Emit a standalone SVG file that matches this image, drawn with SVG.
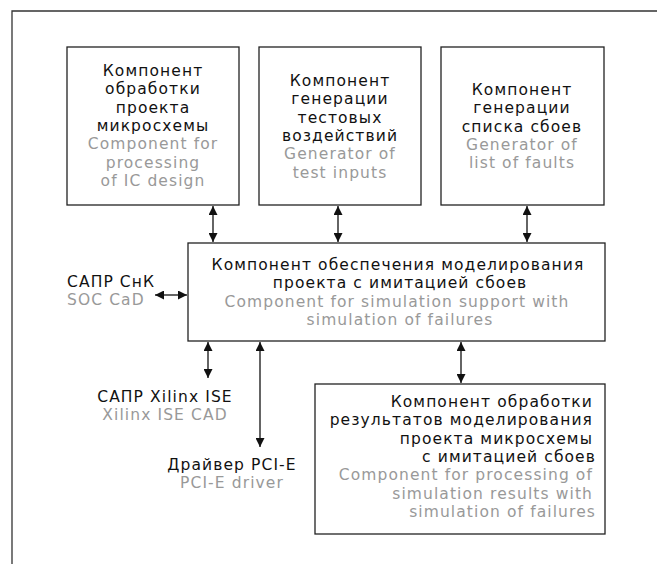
<svg xmlns="http://www.w3.org/2000/svg" width="657" height="564" viewBox="0 0 657 564">
<style>
.box{fill:#fff;stroke:#222;stroke-width:1.3}
.frame{fill:none;stroke:#333;stroke-width:1.3}
text{font-family:"DejaVu Sans","Open Sans",sans-serif;font-size:15.5px;letter-spacing:1.1px}
.k{fill:#111}
.g{fill:#999}
.c{text-anchor:middle}
.r{text-anchor:end}
.ln{stroke:#111;stroke-width:1.3;fill:none;marker-start:url(#ah);marker-end:url(#ah)}
</style>
<defs>
<marker id="ah" viewBox="0 0 10 10" refX="10" refY="5" markerWidth="9" markerHeight="9" markerUnits="userSpaceOnUse" orient="auto-start-reverse">
<path d="M0,0 L10,5 L0,10 z" fill="#111"/>
</marker>
</defs>
<rect width="657" height="564" fill="#fff"/>
<path class="frame" d="M12,564 V11 H657"/>
<g id="n1">
<rect class="box" x="67" y="47" width="172" height="158"/>
<text class="c k" x="153" y="76">Компонент</text>
<text class="c k" x="153" y="94.3">обработки</text>
<text class="c k" x="153" y="112.6">проекта</text>
<text class="c k" x="153" y="130.9">микросхемы</text>
<text class="c g" x="153" y="149.2">Component for</text>
<text class="c g" x="153" y="167.5">processing</text>
<text class="c g" x="153" y="185.8">of IC design</text>
</g>
<g id="n2">
<rect class="box" x="259" y="47" width="162" height="158"/>
<text class="c k" x="340" y="86">Компонент</text>
<text class="c k" x="340" y="104.3">генерации</text>
<text class="c k" x="340" y="122.6">тестовых</text>
<text class="c k" x="340" y="140.9">воздействий</text>
<text class="c g" x="340" y="159.2">Generator of</text>
<text class="c g" x="340" y="177.5">test inputs</text>
</g>
<g id="n3">
<rect class="box" x="441" y="47" width="163" height="158"/>
<text class="c k" x="522" y="95">Компонент</text>
<text class="c k" x="522" y="113.3">генерации</text>
<text class="c k" x="522" y="131.6">списка сбоев</text>
<text class="c g" x="522" y="149.9">Generator of</text>
<text class="c g" x="522" y="168.2">list of faults</text>
</g>
<g id="n4">
<rect class="box" x="188" y="243" width="417" height="98"/>
<text class="c k" x="398" y="270">Компонент обеспечения моделирования</text>
<text class="c k" x="400" y="288.3">проекта с имитацией сбоев</text>
<text class="c g" x="397" y="306.6">Component for simulation support with</text>
<text class="c g" x="400" y="324.9">simulation of failures</text>
</g>
<g id="n5">
<rect class="box" x="315" y="384" width="290" height="150"/>
<text class="r k" x="593" y="407">Компонент обработки</text>
<text class="r k" x="593" y="425.3">результатов моделирования</text>
<text class="r k" x="593" y="443.6">проекта микросхемы</text>
<text class="r k" x="596" y="461.9">с имитацией сбоев</text>
<text class="r g" x="593" y="480.2">Component for processing of</text>
<text class="r g" x="593" y="498.5">simulation results with</text>
<text class="r g" x="596" y="516.8">simulation of failures</text>
</g>
<g id="n6">
<text class="k" x="67" y="287">САПР СнК</text>
<text class="g" x="67" y="305.3">SOC CaD</text>
</g>
<g id="n7">
<text class="c k" x="165" y="402">САПР Xilinx ISE</text>
<text class="c g" x="165" y="420.3">Xilinx ISE CAD</text>
</g>
<g id="n8">
<text class="c k" x="232" y="470">Драйвер PCI-E</text>
<text class="c g" x="232" y="488.3">PCI-E driver</text>
</g>
<g id="connectors">
<line class="ln" x1="213" y1="206" x2="213" y2="242"/>
<line class="ln" x1="338" y1="206" x2="338" y2="242"/>
<line class="ln" x1="527" y1="206" x2="527" y2="242"/>
<line class="ln" x1="155" y1="295" x2="187" y2="295"/>
<line class="ln" x1="208" y1="342" x2="208" y2="378"/>
<line class="ln" x1="260" y1="342" x2="260" y2="447"/>
<line class="ln" x1="461" y1="342" x2="461" y2="383"/>
</g>
</svg>
